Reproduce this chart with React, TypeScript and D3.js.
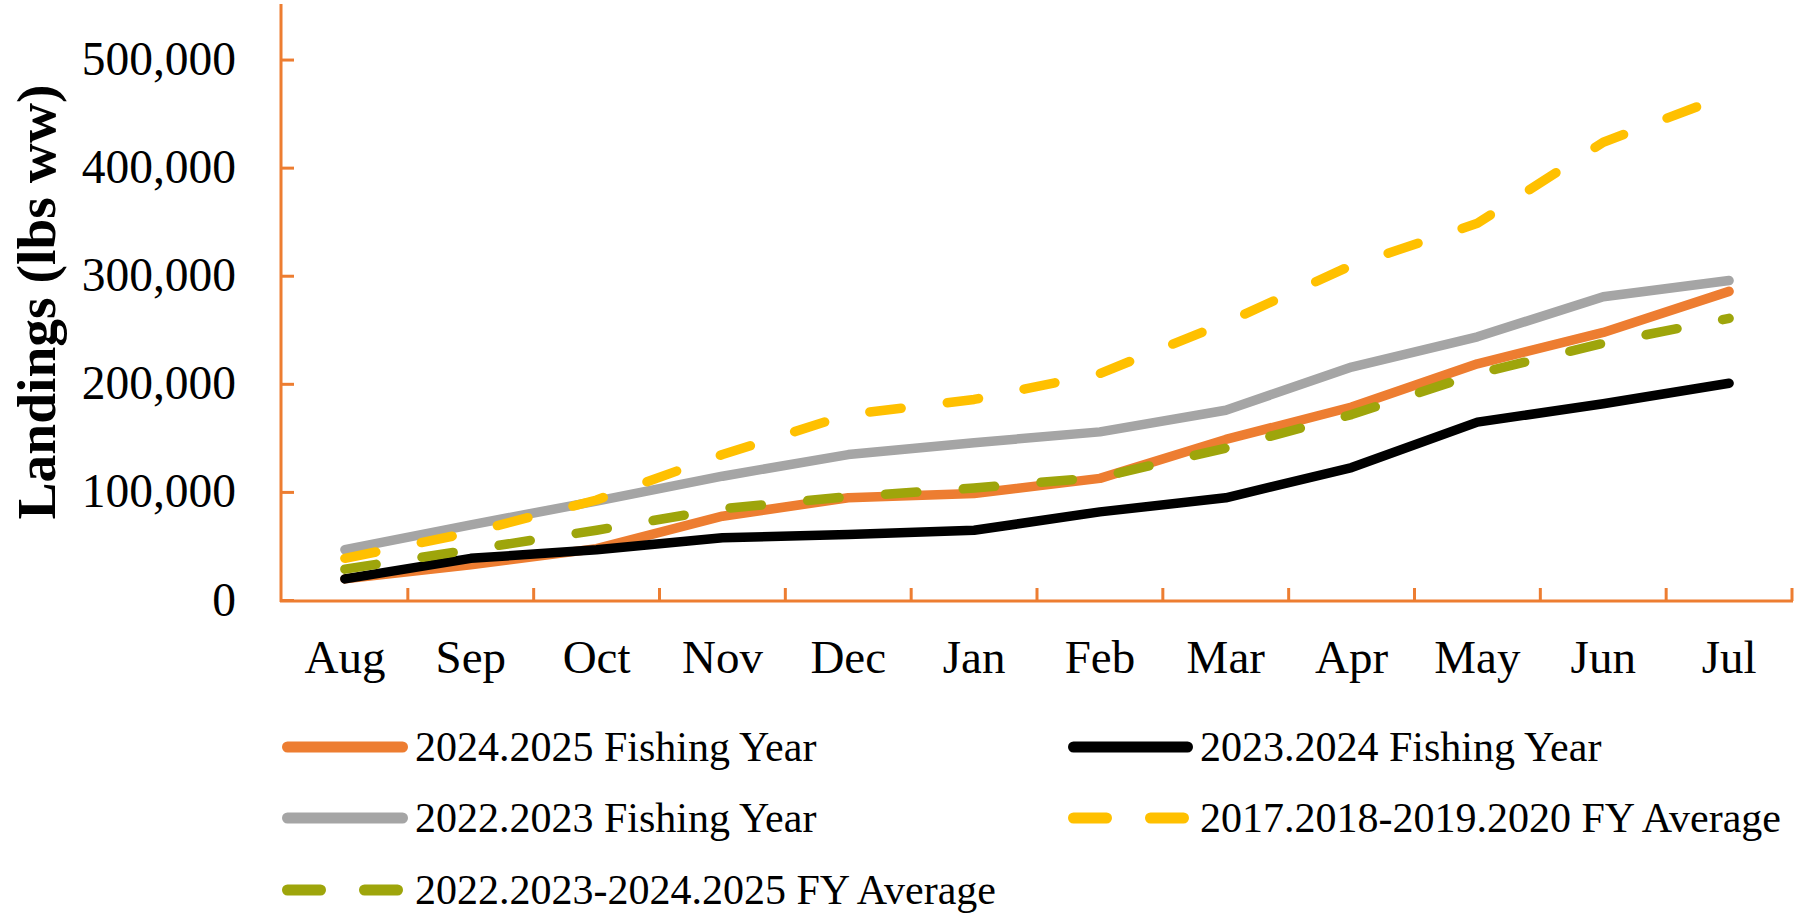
import React from "react";
import * as d3 from "d3";

const months = ["Aug", "Sep", "Oct", "Nov", "Dec", "Jan", "Feb", "Mar", "Apr", "May", "Jun", "Jul"];
const fy2024_2025 = [20000, 33000, 48000, 78000, 95000, 99000, 113000, 149000, 179000, 219000, 248000, 286000];
const fy2023_2024 = [20000, 39000, 47000, 58000, 61000, 65000, 82000, 95000, 123000, 165000, 182000, 201000];
const fy2022_2023 = [47000, 70000, 92000, 115000, 135000, 146000, 156000, 176000, 216000, 244000, 281000, 296000];
const avg2017_2020 = [39000, 63000, 93000, 135000, 172000, 186000, 210000, 257000, 310000, 349000, 424000, 468000];
const avg2022_2025 = [29000, 47000, 65000, 85000, 96000, 104000, 114000, 141000, 172000, 210000, 238000, 261000];
const yTickCount = 5;

const seriesList = [
  { name: "2024.2025 Fishing Year", values: fy2024_2025, color: "#ED7D31", dashed: false },
  { name: "2023.2024 Fishing Year", values: fy2023_2024, color: "#000000", dashed: false },
  { name: "2022.2023 Fishing Year", values: fy2022_2023, color: "#A5A5A5", dashed: false },
  { name: "2017.2018-2019.2020 FY Average", values: avg2017_2020, color: "#FFC000", dashed: true },
  { name: "2022.2023-2024.2025 FY Average", values: avg2022_2025, color: "#9EA50B", dashed: true },
];

const FONT = "'Liberation Serif', 'Times New Roman', serif";
const AXIS = "#ED7D31";

export default function App() {
  const x = d3.scaleBand<string>().domain(months).range([282, 1792]);
  const y = d3.scaleLinear().domain([0, 550000]).range([600.5, 6]);
  const cx = (m: string) => (x(m) as number) + x.bandwidth() / 2;
  const line = d3
    .line<number>()
    .x((_, i) => cx(months[i]))
    .y((v) => y(v));
  const yTicks = y.ticks(yTickCount);
  const fmt = d3.format(",");

  const legendPos = [
    { x1: 287.5, x2: 402.5, tx: 415, cy: 747 },
    { x1: 1073.5, x2: 1187.5, tx: 1200, cy: 747 },
    { x1: 287.5, x2: 402.5, tx: 415, cy: 818 },
    { x1: 1073.5, x2: 1187.5, tx: 1200, cy: 818 },
    { x1: 287.5, x2: 402.5, tx: 415, cy: 890 },
  ];

  return (
    <svg
      width={1797}
      height={914}
      style={{ position: "absolute", left: 0, top: 0, background: "#fff" }}
      fontFamily={FONT}
    >
      <rect x={0} y={0} width={1797} height={914} fill="#fff" />
      {/* axes */}
      <line x1={281} y1={4} x2={281} y2={602} stroke={AXIS} strokeWidth={3} />
      <line x1={280} y1={601} x2={1793} y2={601} stroke={AXIS} strokeWidth={3} />
      {yTicks.map((t) => (
        <g key={t}>
          <line x1={281} x2={294} y1={y(t)} y2={y(t)} stroke={AXIS} strokeWidth={3} />
          <text x={236} y={y(t) + 15} textAnchor="end" fontSize={47.5} fill="#000">
            {fmt(t)}
          </text>
        </g>
      ))}
      {months.map((m) => (
        <g key={m}>
          <line
            x1={(x(m) as number) + x.bandwidth()}
            x2={(x(m) as number) + x.bandwidth()}
            y1={601}
            y2={588}
            stroke={AXIS}
            strokeWidth={3}
          />
          <text x={cx(m)} y={673} textAnchor="middle" fontSize={47} fill="#000">
            {m}
          </text>
        </g>
      ))}
      <text
        transform="translate(55,302) rotate(-90)"
        textAnchor="middle"
        fontSize={55.5}
        fontWeight="bold"
        fill="#000"
      >
        Landings (lbs ww)
      </text>
      {/* series */}
      {seriesList.map((s) => (
        <path
          key={s.name}
          d={line(s.values) || ""}
          fill="none"
          stroke={s.color}
          strokeWidth={9.5}
          strokeLinecap="round"
          strokeLinejoin="round"
          strokeDasharray={s.dashed ? "31.5,46.5" : undefined}
        />
      ))}
      {/* legend */}
      {seriesList.map((s, i) => {
        const p = legendPos[i];
        return (
          <g key={s.name}>
            <line
              x1={p.x1}
              x2={p.x2}
              y1={p.cy}
              y2={p.cy}
              stroke={s.color}
              strokeWidth={11}
              strokeLinecap="round"
              strokeDasharray={s.dashed ? "33,44" : undefined}
            />
            <text x={p.tx} y={p.cy + 14} fontSize={42} fill="#000">
              {s.name}
            </text>
          </g>
        );
      })}
    </svg>
  );
}
